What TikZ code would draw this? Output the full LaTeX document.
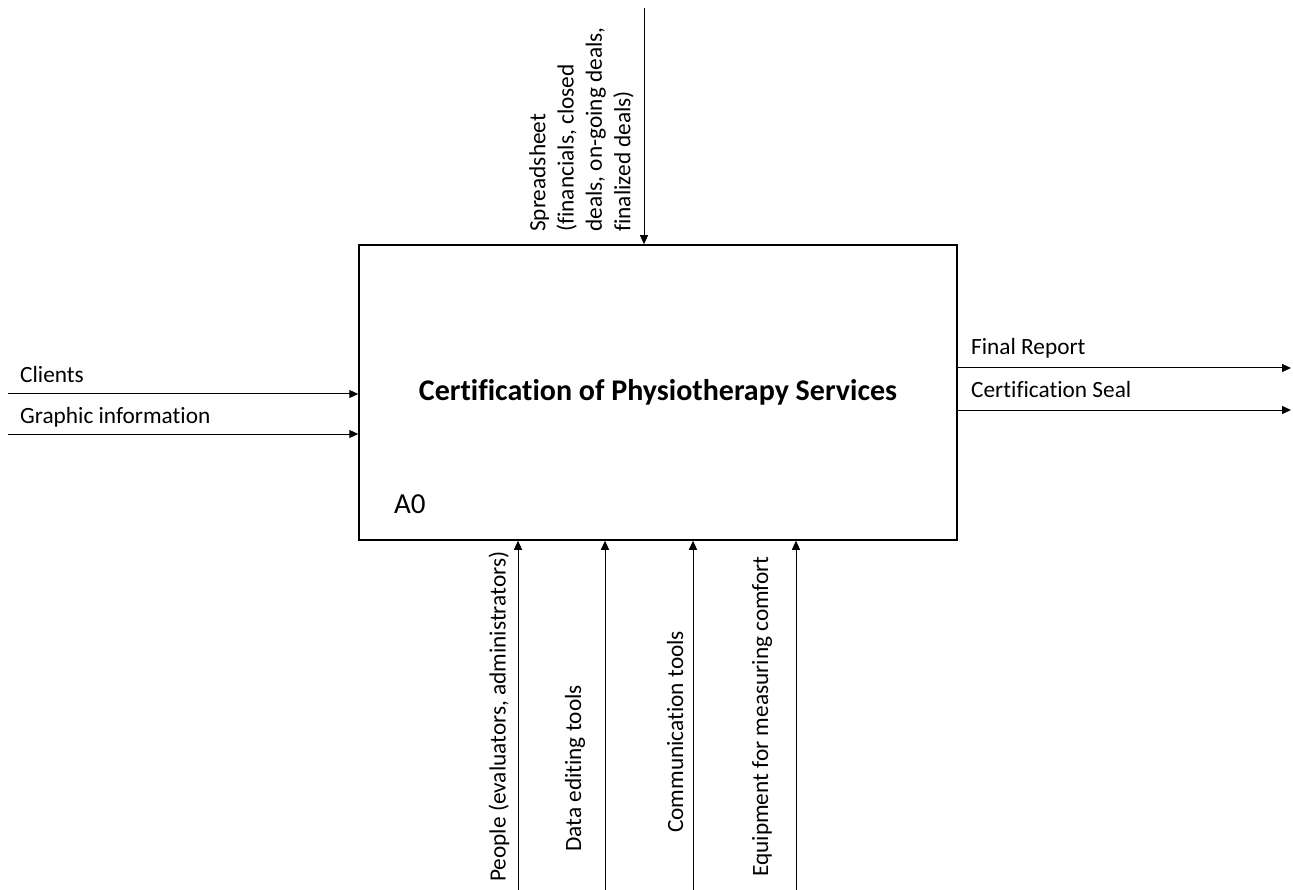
\documentclass[tikz,border=0pt]{standalone}
\usepackage{fontspec}
\setmainfont[Ligatures=NoCommon]{Carlito}
\usetikzlibrary{arrows.meta}
\begin{document}
\begin{tikzpicture}[x=1pt,y=-1pt,
  flow/.style={line width=1pt,-{Triangle[length=9pt,width=8pt]}},
  lbl/.style={font=\fontsize{23.3}{28.3}\selectfont,inner sep=0pt},
  vlbl/.style={lbl,rotate=90,anchor=west},
  process/.style={draw,line width=1.5pt,minimum width=598pt,minimum height=295pt,
    inner sep=0pt,font=\fontsize{30}{35}\selectfont\bfseries}]
\useasboundingbox (0,0) rectangle (1293,890);

% activity box
\node[process] (box) at (658,392.5) {\raisebox{-2pt}{Certification of Physiotherapy Services}};
\node[font=\fontsize{29}{34}\selectfont,inner sep=0pt,anchor=base west] (id) at (394,513) {A0};

% control
\coordinate (ctl) at (644,8);
\draw[flow] (ctl) -- (ctl |- box.north);
\node[lbl,rotate=90,anchor=north west,align=left] (ctllbl) at (529,232)
  {Spreadsheet\\(financials, closed\\deals, on-going deals,\\finalized deals)};

% inputs
\coordinate (in1) at (8,394);
\coordinate (in2) at (8,434);
\draw[flow] (in1) -- (in1 -| box.west);
\draw[flow] (in2) -- (in2 -| box.west);
\node[lbl,anchor=base west] (in1lbl) at (20,383) {Clients};
\node[lbl,anchor=base west] (in2lbl) at (20,423) {Graphic information};

% outputs
\coordinate (out1) at (1291,368);
\coordinate (out2) at (1291,410);
\draw[flow] (out1 -| box.east) -- (out1);
\draw[flow] (out2 -| box.east) -- (out2);
\node[lbl,anchor=base west] (out1lbl) at (971,355) {Final Report};
\node[lbl,anchor=base west] (out2lbl) at (971,398) {Certification Seal};

% mechanisms
\coordinate (m1) at (518,890);
\coordinate (m2) at (605,890);
\coordinate (m3) at (693,890);
\coordinate (m4) at (796,890);
\draw[flow] (m1) -- (m1 |- box.south);
\draw[flow] (m2) -- (m2 |- box.south);
\draw[flow] (m3) -- (m3 |- box.south);
\draw[flow] (m4) -- (m4 |- box.south);
\node[vlbl] (m1lbl) at (499,882) {People (evaluators, administrators)};
\node[vlbl] (m2lbl) at (575,852) {Data editing tools};
\node[vlbl] (m3lbl) at (675,833) {Communication tools};
\node[vlbl] (m4lbl) at (762,877) {Equipment for measuring comfort};
\end{tikzpicture}
\end{document}
